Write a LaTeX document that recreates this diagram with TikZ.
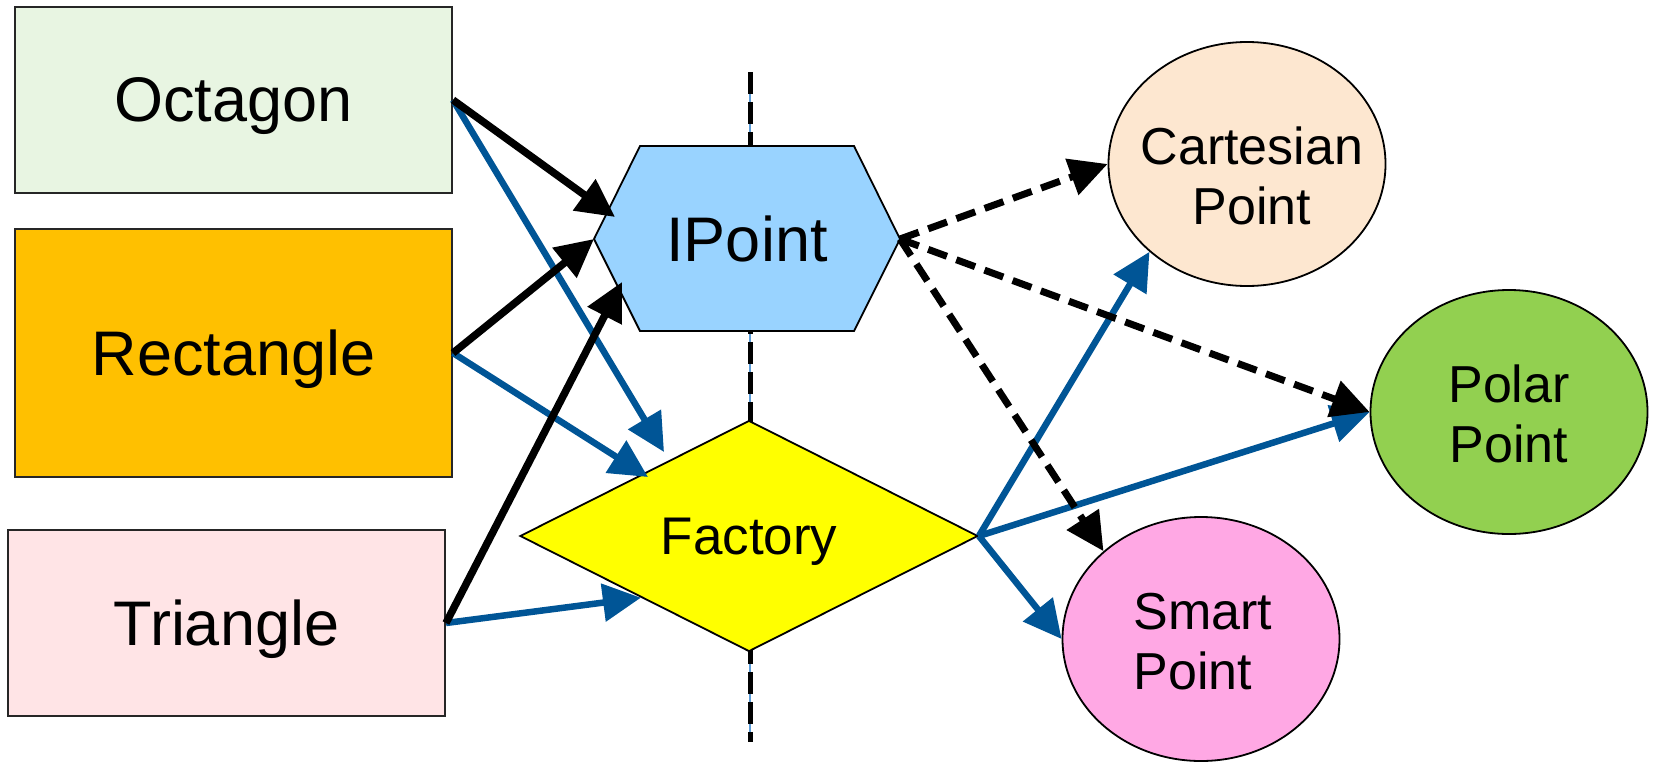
\documentclass[tikz,border=0pt]{standalone}
\usepackage{fontspec}
\setmainfont{Liberation Sans}
\usetikzlibrary{arrows.meta,shapes.geometric,calc}
\definecolor{octfill}{RGB}{232,245,226}
\definecolor{rectfill}{RGB}{255,192,0}
\definecolor{trifill}{RGB}{255,228,230}
\definecolor{hexfill}{RGB}{153,211,255}
\definecolor{facfill}{RGB}{255,255,0}
\definecolor{cartfill}{RGB}{253,231,208}
\definecolor{polfill}{RGB}{146,208,80}
\definecolor{smartfill}{RGB}{255,168,228}
\definecolor{arrblue}{RGB}{0,85,150}
\definecolor{guideblue}{RGB}{90,155,215}
\begin{document}
\begin{tikzpicture}[x=1pt,y=-1pt,
 box/.style={draw=black!85, line width=2pt, minimum width=437pt, inner sep=0pt, text depth=0pt, font=\fontsize{63}{72}\selectfont},
 oval/.style={ellipse, draw, line width=1.8pt, minimum width=277pt, minimum height=244pt, inner sep=0pt},
 ovaltext/.style={inner sep=0pt, align=center, font=\fontsize{52}{60}\selectfont},
 tipstyle/.style={-{Triangle[length=38pt,width=37pt]}},
 solidarr/.style={line width=7.5pt, tipstyle},
 bluearr/.style={draw=arrblue, line width=6.5pt, tipstyle},
 dasharr/.style={line width=7pt, dash pattern=on 20pt off 10pt, tipstyle},
]
\useasboundingbox (0,0) rectangle (1655,763);
% guide line
\coordinate (gtop) at (750,72);
\coordinate (gbot) at (750,742);
\draw[guideblue, line width=1.2pt] (gtop) -- (gbot);
\draw[line width=5pt, dash pattern=on 22pt off 8pt] (gtop) -- (gbot);
% left boxes
\node[box, fill=octfill, minimum height=186pt] (oct) at (233.5,100) {Octagon};
\node[box, fill=rectfill, minimum height=248pt] (rect) at (233.5,353) {Rectangle};
\node[box, fill=trifill, minimum height=186pt] (tri) at (226.5,623) {Triangle};
% hexagon
\coordinate (hL) at (594,239);
\coordinate (hTL) at (640,146);
\coordinate (hTR) at (854,146);
\coordinate (hR) at (900,239);
\coordinate (hBR) at (854,331);
\coordinate (hBL) at (640,331);
\draw[fill=hexfill, line width=1.8pt] (hL) -- (hTL) -- (hTR) -- (hR) -- (hBR) -- (hBL) -- cycle;
\node[font=\fontsize{63}{72}\selectfont] (hex) at (747,239) {IPoint};
% diamond
\node[diamond, draw, line width=1.8pt, fill=facfill, minimum width=458pt, minimum height=231pt, inner sep=0pt, text depth=0pt, font=\fontsize{53}{60}\selectfont] (fac) at (749,536) {Factory};
% ellipses
\node[oval, fill=cartfill] (cart) at (1247,164) {};
\node[ovaltext] (carttext) at (1252,176) {Cartesian\\Point};
\node[oval, fill=polfill] (pol) at (1509,412) {};
\node[ovaltext] (poltext) at (1509,414) {Polar\\Point};
\node[oval, fill=smartfill] (smart) at (1201,639) {};
\node[ovaltext, align=left] (smarttext) at (1203,642) {Smart\\Point};
% helper coordinates
\coordinate (fa1) at (664,452);
\coordinate (fa2) at (648,477);
\coordinate (fa3) at ($(fac.west)!0.53!(fac.south)$);
\coordinate (h1) at (615,217);
\coordinate (h3) at (622,282);
% blue arrows
\draw[bluearr] (oct.east) -- (fa1);
\draw[bluearr] (rect.east) -- (fa2);
\draw[bluearr] (tri.east) -- (fa3);
\draw[bluearr] (fac.east) -- (cart.222);
\draw[bluearr] (fac.east) -- (pol.west);
\draw[bluearr] (fac.east) -- (smart.west);
% black arrows
\draw[solidarr] (oct.east) -- (h1);
\draw[solidarr] (rect.east) -- (hL);
\draw[solidarr] (tri.east) -- (h3);
% dashed arrows
\draw[dasharr] (hR) -- (cart.west);
\draw[dasharr] (hR) -- (pol.west);
\draw[dasharr] (hR) -- (smart.138);
\end{tikzpicture}
\end{document}
